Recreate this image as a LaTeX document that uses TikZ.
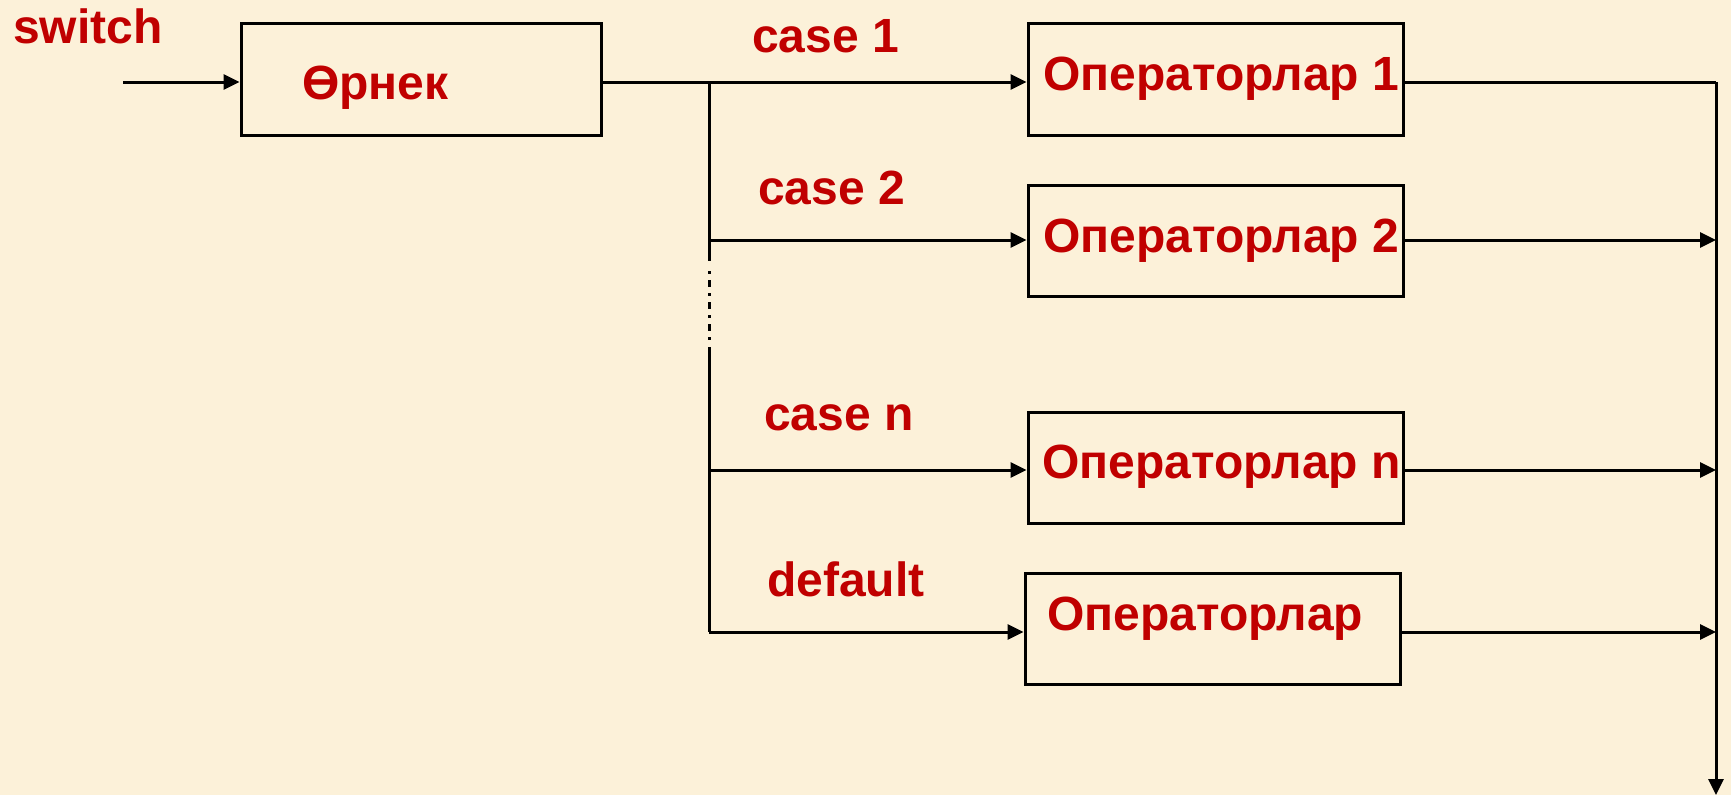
\documentclass[tikz,border=0pt]{standalone}
\usepackage{fontspec}
\setmainfont{Liberation Sans}
\usetikzlibrary{arrows.meta}
\definecolor{bgc}{RGB}{252,241,217}
\definecolor{txtred}{RGB}{192,0,0}
\begin{document}
\begin{tikzpicture}[x=1pt,y=-1pt,
  conn/.style={line width=3pt,draw=black},
  arr/.style={conn,-{Triangle[length=16pt,width=15pt]}},
  box/.style={draw=black,line width=3pt,minimum width=#1,minimum height=111pt,inner sep=0pt},
  lbl/.style={anchor=base west,inner sep=0pt,text=txtred,font=\fontsize{48}{58}\selectfont\bfseries},
  dashdot/.style={conn,dash pattern=on 3pt off 6pt on 7pt off 6pt}]
\fill[bgc] (0,0) rectangle (1731,795);
\useasboundingbox (0,0) rectangle (1731,795);
% boxes
\node[box=360pt,minimum height=112pt] (e)  at (421,79) {};
\node[box=375pt,minimum height=112pt] (b1) at (1215.5,79) {};
\node[box=375pt] (b2) at (1215.5,240.5) {};
\node[box=375pt] (bn) at (1215.5,467.5) {};
\node[box=375pt] (bd) at (1212.5,628.5) {};
% labels
\node[lbl] (tsw) at (13,43) {switch};
\node[lbl] (te)  at (302,99) {Өрнек};
\node[lbl] (c1) at (752,52) {case 1};
\node[lbl] (c2) at (758,204) {case 2};
\node[lbl] (cn) at (764,430) {case n};
\node[lbl] (cd) at (767,596) {default};
\node[lbl] (t1) at (1043,90) {Операторлар 1};
\node[lbl] (t2) at (1043,252) {Операторлар 2};
\node[lbl] (tn) at (1042,478) {Операторлар n};
\node[lbl] (td) at (1047,630) {Операторлар};
% coordinates
\coordinate (in) at (123,82);
\coordinate (j1) at (709,82);
\coordinate (j2) at (709,240);
\coordinate (d1) at (709,261);
\coordinate (d1b) at (709,271);
\coordinate (d2b) at (709,341);
\coordinate (d2) at (709,347);
\coordinate (jn) at (709,470);
\coordinate (jd) at (709,632);
\coordinate (r1) at (1716,82);
\coordinate (r2) at (1716,240);
\coordinate (rn) at (1716,470);
\coordinate (rd) at (1716,632);
\coordinate (rend) at (1716,795);
% connectors
\draw[arr] (in) -- (in -| e.west);
\draw[conn] (e.east |- j1) -- (j1);
\draw[arr] (j1) -- (j1 -| b1.west);
\draw[arr] (j2) -- (j2 -| b2.west);
\draw[arr] (jn) -- (jn -| bn.west);
\draw[arr] (jd) -- (jd -| bd.west);
\draw[conn] (j1) -- (d1);
\draw[dashdot] (d1b) -- (d2b);
\draw[conn] (d2) -- (jd);
\draw[conn] (b1.east |- r1) -- (r1);
\draw[arr] (b2.east |- r2) -- (r2);
\draw[arr] (bn.east |- rn) -- (rn);
\draw[arr] (bd.east |- rd) -- (rd);
\draw[arr] (r1) -- (rend);
\end{tikzpicture}
\end{document}
